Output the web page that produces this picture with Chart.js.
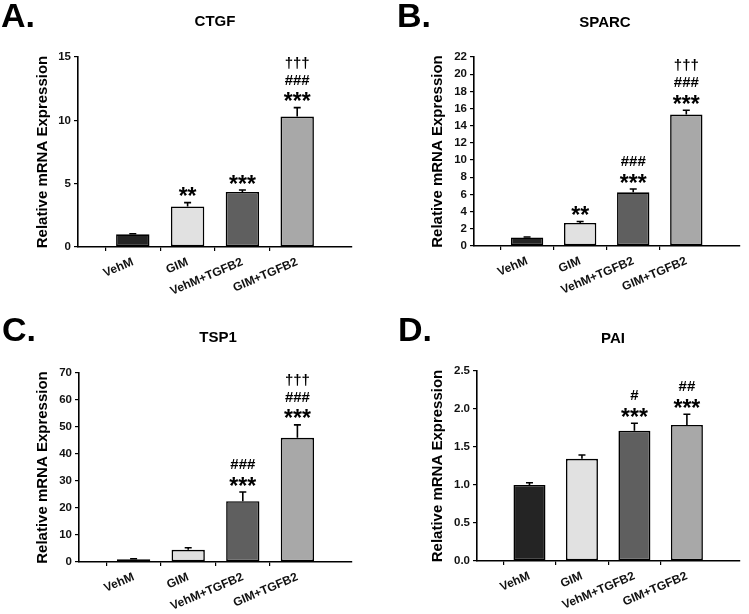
<!DOCTYPE html>
<html>
<head>
<meta charset="utf-8">
<script src="https://cdn.jsdelivr.net/npm/chart.js@4.4.0/dist/chart.umd.min.js"></script>
<style>
  html, body { margin: 0; padding: 0; background: #fff; }
  #page { position: relative; width: 749px; height: 614px; overflow: hidden; }
  .panel { position: absolute; }
</style>
</head>
<body>
<div id="page"></div>
<script>
// categories shared by all four panels
const categories = ['VehM', 'GIM', 'VehM+TGFB2', 'GIM+TGFB2'];

// CTGF (A)
const ctgfValues = [1.0, 3.2, 4.35, 10.3];
const ctgfErrors = [0.05, 0.3, 0.15, 0.7];
const ctgfMarks = [[], ['**'], ['***'], ['***', '###', '†††']];
const ctgfTicks = [0, 5, 10, 15];

// SPARC (B)
const sparcValues = [1.0, 2.68, 6.25, 15.3];
const sparcErrors = [0.05, 0.18, 0.38, 0.5];
const sparcMarks = [[], ['**'], ['***', '###'], ['***', '###', '†††']];
const sparcTicks = [0, 2, 4, 6, 8, 10, 12, 14, 16, 18, 20, 22];

// TSP1 (C)
const tsp1Values = [1.0, 4.5, 22.5, 46.0];
const tsp1Errors = [0.2, 0.8, 3.4, 4.8];
const tsp1Marks = [[], [], ['***', '###'], ['***', '###', '†††']];
const tsp1Ticks = [0, 10, 20, 30, 40, 50, 60, 70];

// PAI (D)
const paiValues = [1.0, 1.345, 1.713, 1.79];
const paiErrors = [0.03, 0.05, 0.1, 0.14];
const paiMarks = [[], [], ['***', '#'], ['***', '##']];
const paiTicks = [0, 0.5, 1.0, 1.5, 2.0, 2.5];

const yTitle = 'Relative mRNA Expression';
const barColors = ['#242424', '#e1e1e1', '#5f5f5f', '#a8a8a8'];
const FONT = '"Liberation Sans", Arial, Helvetica, sans-serif';

const panels = [
  { letter: 'A.', title: 'CTGF', values: ctgfValues, errors: ctgfErrors, marks: ctgfMarks, ticks: ctgfTicks, decimals: 0,
    left: 0, top: 0, w: 375, h: 307, plotLeft: 78, plotRight: 352, plotTop: 57, plotBottom: 247,
    letterX: 1, letterY: 27, titleX: 215, titleY: 26, yTitleX: 43 },
  { letter: 'B.', title: 'SPARC', values: sparcValues, errors: sparcErrors, marks: sparcMarks, ticks: sparcTicks, decimals: 0,
    left: 375, top: 0, w: 374, h: 307, plotLeft: 99, plotRight: 369, plotTop: 57, plotBottom: 246,
    letterX: 22, letterY: 27, titleX: 230, titleY: 27, yTitleX: 63 },
  { letter: 'C.', title: 'TSP1', values: tsp1Values, errors: tsp1Errors, marks: tsp1Marks, ticks: tsp1Ticks, decimals: 0,
    left: 0, top: 307, w: 375, h: 307, plotLeft: 79, plotRight: 352, plotTop: 66, plotBottom: 255,
    letterX: 2, letterY: 34, titleX: 218, titleY: 35, yTitleX: 43 },
  { letter: 'D.', title: 'PAI', values: paiValues, errors: paiErrors, marks: paiMarks, ticks: paiTicks, decimals: 1,
    left: 375, top: 307, w: 374, h: 307, plotLeft: 102, plotRight: 370, plotTop: 64, plotBottom: 254,
    letterX: 23, letterY: 34, titleX: 238, titleY: 36, yTitleX: 63 }
];

// vertical distance from error-bar top to centre of each stacked mark line
const markOffsets = [11, 28, 45];

function drawCentered(ctx, text, x, cy) {
  const m = ctx.measureText(text);
  const asc = m.actualBoundingBoxAscent, desc = m.actualBoundingBoxDescent;
  ctx.fillText(text, x, cy + (asc - desc) / 2);
}

const panelPlugin = {
  id: 'panelExtras',
  afterDatasetsDraw(chart) {
    const p = chart.options.plugins.panelExtras.panel;
    const ctx = chart.ctx;
    const yScale = chart.scales.y;
    const meta = chart.getDatasetMeta(0);
    ctx.save();
    ctx.fillStyle = '#000';
    ctx.strokeStyle = '#000';

    // error bars (upper only) and significance marks
    p.values.forEach((v, i) => {
      const bar = meta.data[i + 1];
      const yTop = yScale.getPixelForValue(v + p.errors[i]);
      ctx.lineWidth = 1.6;
      ctx.beginPath();
      ctx.moveTo(bar.x, bar.y);
      ctx.lineTo(bar.x, yTop);
      ctx.moveTo(bar.x - 3.5, yTop);
      ctx.lineTo(bar.x + 3.5, yTop);
      ctx.stroke();

      ctx.textAlign = 'center';
      p.marks[i].forEach((mk, j) => {
        ctx.font = mk[0] === '*' ? 'bold 23px ' + FONT : 'bold 15px ' + FONT;
        drawCentered(ctx, mk, bar.x, yTop - markOffsets[j]);
      });
    });

    // panel letter
    ctx.textAlign = 'left';
    ctx.textBaseline = 'alphabetic';
    ctx.font = 'bold 34px ' + FONT;
    ctx.fillText(p.letter, p.letterX, p.letterY);

    // gene title
    ctx.textAlign = 'center';
    ctx.font = 'bold 15px ' + FONT;
    ctx.fillText(p.title, p.titleX, p.titleY);

    // y axis title
    ctx.font = 'bold 15px ' + FONT;
    ctx.translate(p.yTitleX, (p.plotTop + p.plotBottom) / 2);
    ctx.rotate(-Math.PI / 2);
    drawCentered(ctx, yTitle, 0, 0);
    ctx.restore();
  }
};

panels.forEach(p => {
  const wrap = document.createElement('div');
  wrap.className = 'panel';
  wrap.style.left = p.left + 'px';
  wrap.style.top = p.top + 'px';
  const canvas = document.createElement('canvas');
  canvas.width = p.w;
  canvas.height = p.h;
  canvas.style.width = p.w + 'px';
  canvas.style.height = p.h + 'px';
  wrap.appendChild(canvas);
  document.getElementById('page').appendChild(wrap);

  const labels = [''].concat(categories, ['']);
  const data = [null].concat(p.values, [null]);
  const colors = ['transparent'].concat(barColors, ['transparent']);
  const last = labels.length - 1;

  new Chart(canvas.getContext('2d'), {
    type: 'bar',
    data: {
      labels: labels,
      datasets: [{
        data: data,
        backgroundColor: colors,
        borderColor: '#000',
        borderWidth: 1.6,
        borderSkipped: false,
        barPercentage: 0.61,
        categoryPercentage: 1.0
      }]
    },
    plugins: [panelPlugin],
    options: {
      responsive: false,
      animation: false,
      devicePixelRatio: 1,
      layout: {
        padding: { left: 0, top: p.plotTop, right: p.w - p.plotRight, bottom: 0 }
      },
      plugins: {
        legend: { display: false },
        tooltip: { enabled: false },
        panelExtras: { panel: p }
      },
      scales: {
        x: {
          offset: false,
          afterFit(s) { s.height = p.h - p.plotBottom; },
          border: { display: true, color: '#000', width: 1.6 },
          grid: {
            drawOnChartArea: false,
            drawTicks: true,
            tickLength: 4,
            lineWidth: 1.2,
            color: c => (c.index === 0 || c.index === last) ? 'rgba(0,0,0,0)' : '#000'
          },
          ticks: {
            autoSkip: false,
            minRotation: 23,
            maxRotation: 23,
            padding: 4,
            color: '#111',
            font: { family: FONT, size: 12, weight: 'bold' }
          }
        },
        y: {
          min: 0,
          max: p.ticks[p.ticks.length - 1],
          afterFit(s) { s.width = p.plotLeft; },
          afterBuildTicks(s) { s.ticks = p.ticks.map(v => ({ value: v })); },
          border: { display: true, color: '#000', width: 1.6 },
          grid: {
            drawOnChartArea: false,
            drawTicks: true,
            tickLength: 4,
            lineWidth: 1.2,
            color: '#000'
          },
          ticks: {
            padding: 3,
            color: '#111',
            font: { family: FONT, size: 11.5, weight: 'bold' },
            callback: v => Number(v).toFixed(p.decimals)
          }
        }
      }
    }
  });
});
</script>
</body>
</html>
